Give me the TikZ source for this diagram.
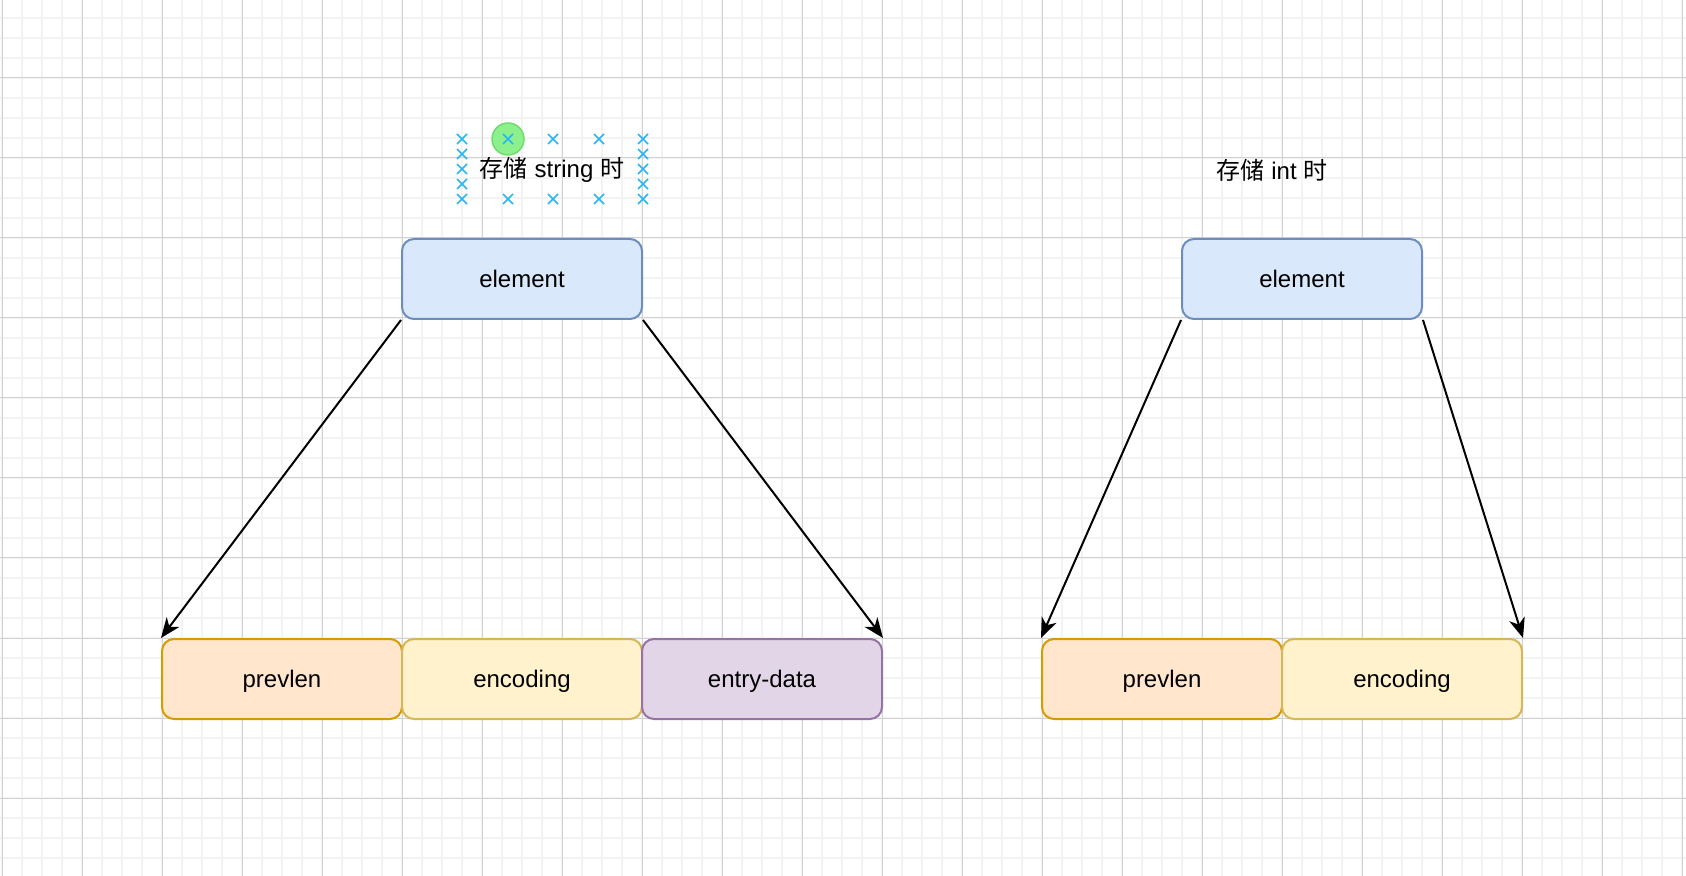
\documentclass[tikz,border=0pt]{standalone}
\usepackage{fontspec}
\setmainfont{Liberation Sans}
\newfontfamily\cjk{Noto Sans CJK SC}
\usetikzlibrary{arrows.meta}
\definecolor{gridminor}{HTML}{F3F3F3}
\definecolor{gridmajor}{HTML}{D2D2D2}
\definecolor{elfill}{HTML}{DAE8FC}
\definecolor{eldraw}{HTML}{6C8EBF}
\definecolor{plfill}{HTML}{FFE6CC}
\definecolor{pldraw}{HTML}{D79B00}
\definecolor{encfill}{HTML}{FFF2CC}
\definecolor{encdraw}{HTML}{D6B656}
\definecolor{edfill}{HTML}{E1D5E7}
\definecolor{eddraw}{HTML}{9673A6}
\definecolor{handle}{HTML}{29B6F2}
\definecolor{greenfill}{HTML}{8CF08C}
\definecolor{greendraw}{HTML}{6FDC6F}
\tikzset{
  minorgrid/.style={draw=gridminor, line width=1pt},
  majorgrid/.style={draw=gridmajor, line width=0.5pt},
  box/.style={rectangle, rounded corners=6pt, line width=1pt, minimum width=120pt, minimum height=40pt, inner sep=0pt, text depth=0pt, font=\fontsize{12pt}{14pt}\selectfont},
  elbox/.style={box, fill=elfill, draw=eldraw},
  plbox/.style={box, fill=plfill, draw=pldraw},
  encbox/.style={box, fill=encfill, draw=encdraw},
  edbox/.style={box, fill=edfill, draw=eddraw},
  lbl/.style={inner sep=0pt, font=\fontsize{12pt}{14pt}\selectfont},
  conn/.style={line width=1pt, -{Stealth[length=10pt, width=8pt, inset=3pt]}},
  handlex/.style={draw=handle, line width=0.8pt},
}
\begin{document}
\begin{tikzpicture}[x=0.5pt,y=-0.5pt]
\useasboundingbox (0,0) rectangle (1686,876);
\fill[white] (0,0) rectangle (1686,876);
% grid
\foreach \x in {2,22,...,1686} \draw[minorgrid] (\x,0) -- (\x,876);
\foreach \y in {18,38,...,876} \draw[minorgrid] (0,\y) -- (1686,\y);
\foreach \x in {2,82,...,1686} \draw[majorgrid] (\x,0) -- (\x,876);
\foreach \y in {78,158,...,876} \draw[majorgrid] (0,\y) -- (1686,\y);

% left structure
\node[elbox] (el1) at (522,279) {element};
\node[plbox] (pl1) at (282,679) {prevlen};
\node[encbox] (enc1) at (522,679) {encoding};
\node[edbox] (ed1) at (762,679) {entry-data};
\draw[conn] (el1.south west) -- (pl1.north west);
\draw[conn] (el1.south east) -- (ed1.north east);

% right structure
\node[elbox] (el2) at (1302,279) {element};
\node[plbox] (pl2) at (1162,679) {prevlen};
\node[encbox] (enc2) at (1402,679) {encoding};
\draw[conn] (el2.south west) -- (pl2.north west);
\draw[conn] (el2.south east) -- (enc2.north east);

% titles
\node[lbl] (t1) at (552,170) {{\cjk 存储} string {\cjk 时}};
\node[lbl] (t2) at (1272,170) {{\cjk 存储} int {\cjk 时}};

% selection handles
\fill[greenfill, draw=greendraw, line width=0.75pt] (508,139) circle (16);
\foreach \p in {(462,139),(508,139),(553,139),(599,139),(643,139),
                (462,199),(508,199),(553,199),(599,199),(643,199),
                (462,154),(462,169),(462,184),(643,154),(643,169),(643,184)} {
  \draw[handlex] \p ++(-5,-5) -- ++(10,10);
  \draw[handlex] \p ++(-5,5) -- ++(10,-10);
}
\end{tikzpicture}
\end{document}
